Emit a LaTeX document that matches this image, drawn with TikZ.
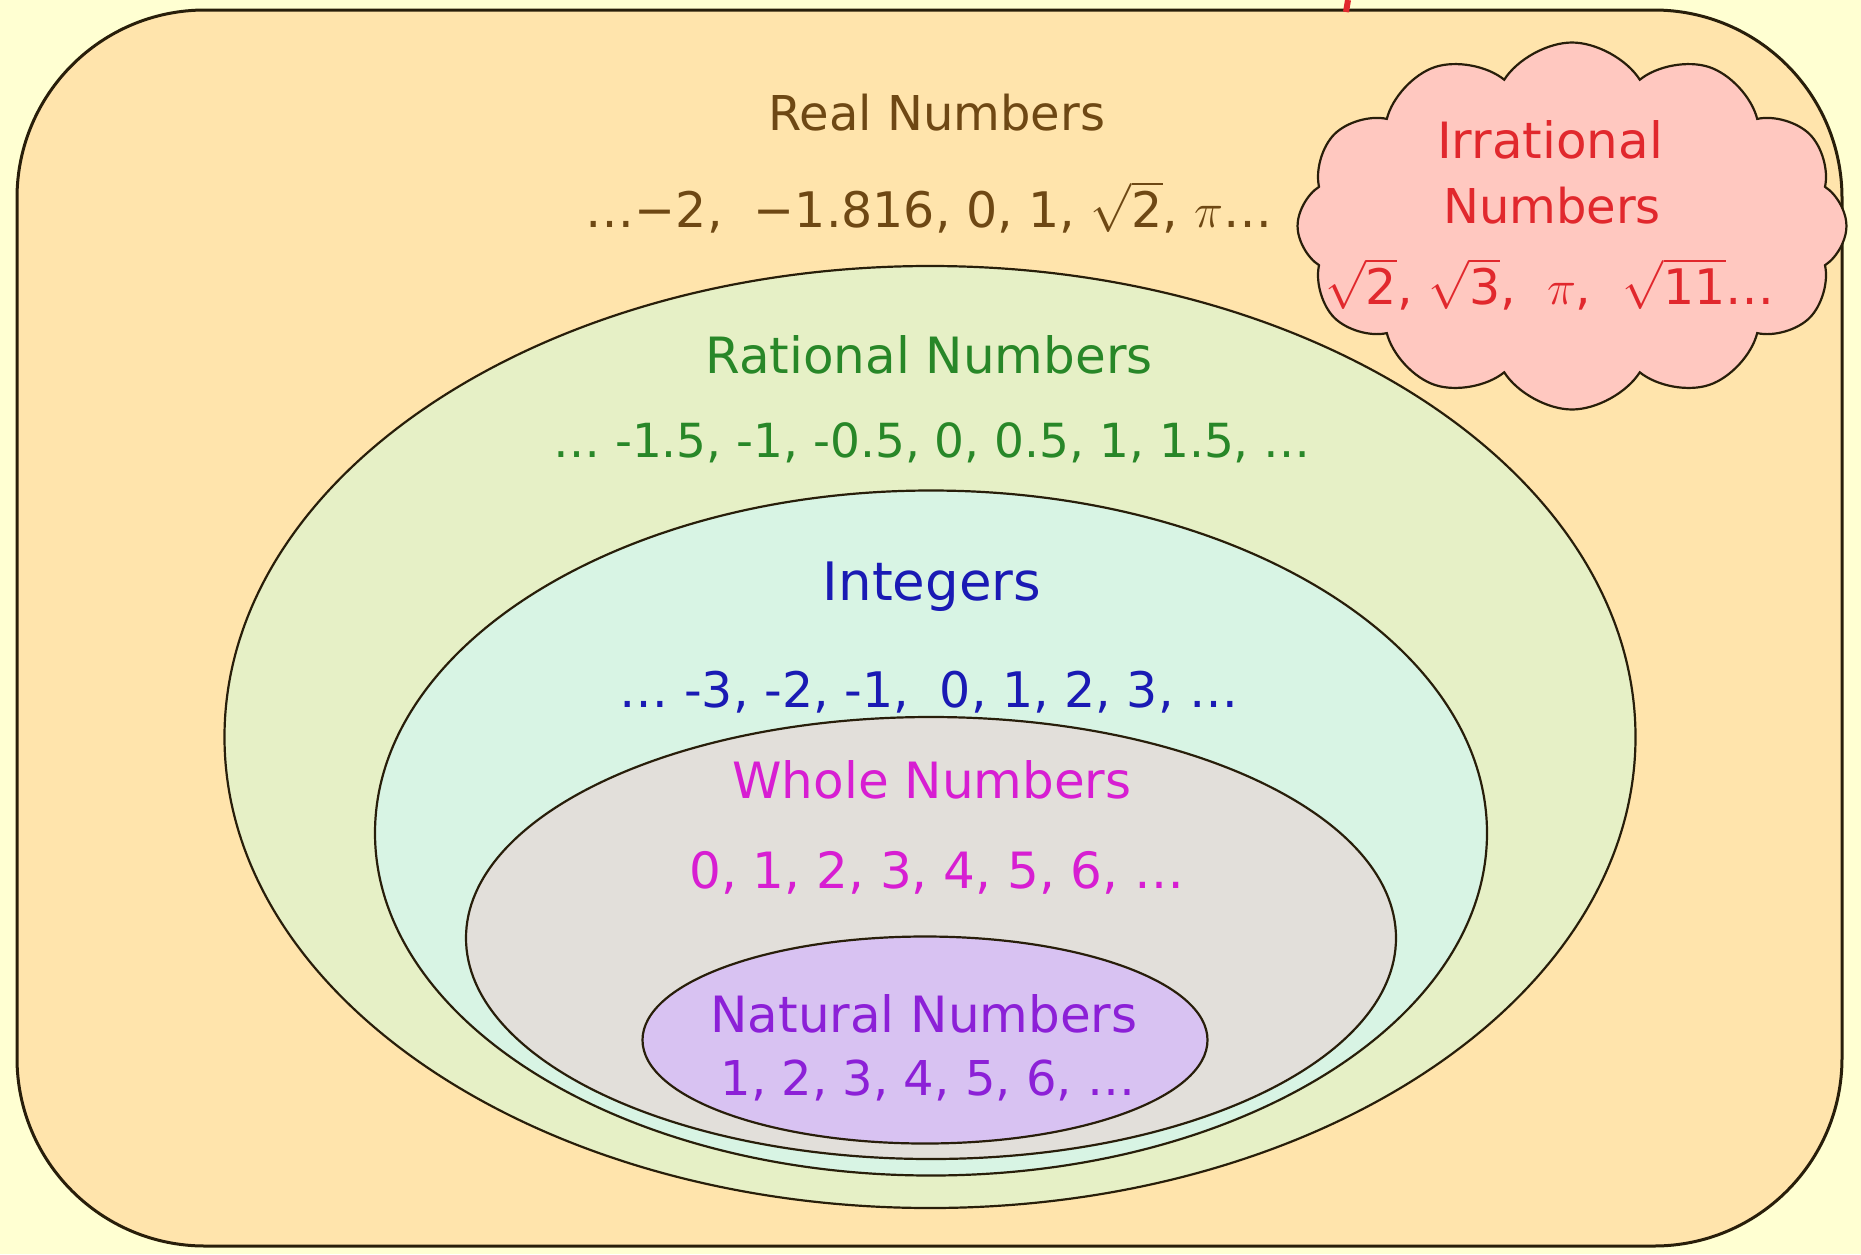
\RequirePackage{fix-cm}
\documentclass[tikz,border=0pt]{standalone}
\usepackage{fontspec}
\setmainfont{DejaVu Sans}
\usetikzlibrary{shapes.geometric,shapes.symbols}
\definecolor{bgout}{RGB}{255,255,210}
\definecolor{peach}{RGB}{255,228,172}
\definecolor{ratfill}{RGB}{230,240,198}
\definecolor{intfill}{RGB}{216,244,228}
\definecolor{wholefill}{RGB}{226,223,218}
\definecolor{natfill}{RGB}{216,194,242}
\definecolor{cloudfill}{RGB}{255,200,192}
\definecolor{edge}{RGB}{40,30,10}
\definecolor{realc}{RGB}{110,72,20}
\definecolor{ratc}{RGB}{40,135,40}
\definecolor{intc}{RGB}{26,26,180}
\definecolor{wholec}{RGB}{215,30,210}
\definecolor{natc}{RGB}{140,32,215}
\definecolor{irrc}{RGB}{225,40,45}
\tikzset{
  elli/.style={ellipse, draw=edge, line width=2.2pt, inner sep=0pt},
  lbl/.style={anchor=base, inner sep=0pt, font=\fontsize{50}{58}\selectfont},
}
\newcommand{\rt}[1]{$\sqrt{\mbox{#1}}$}
\begin{document}
\begin{tikzpicture}[x=1pt,y=-1pt]
\fill[bgout] (0,0) rectangle (1861,1254);
\useasboundingbox (0,0) rectangle (1861,1254);
% outer set: real numbers
\node[draw=edge, fill=peach, line width=3pt, rounded corners=188pt,
      minimum width=1825pt, minimum height=1236pt, inner sep=0pt] (real) at (929.5,628) {};
% nested sets
\node[elli, fill=ratfill, minimum width=1411pt, minimum height=942pt] (rat) at (930,737) {};
\node[elli, fill=intfill, minimum width=1112pt, minimum height=685pt] (int) at (931,833) {};
\node[elli, fill=wholefill, minimum width=930pt, minimum height=442pt] (whole) at (931,938) {};
\node[elli, fill=natfill, minimum width=565pt, minimum height=207pt] (nat) at (925,1040) {};
% irrational cloud
\node[cloud, cloud puffs=12, cloud puff arc=115, cloud ignores aspect, draw=edge,
      fill=cloudfill, line width=2.2pt, minimum width=549pt, minimum height=367pt,
      inner sep=0pt] (irr) at (1572,226) {};
% title fragment
\draw[irrc, line width=6pt] (1348,0) -- (1346,12);
% labels
\node[lbl, text=realc, font=\fontsize{48}{56}\selectfont] (realT) at (937,130) {Real Numbers};
\node[lbl, text=realc, font=\fontsize{49}{57}\selectfont] (realR) at (929,227) {…−2,\ \ −1.816,\ 0,\ 1,\ \rt{2},\ $\pi$…};
\node[lbl, text=ratc] (ratT) at (929,373) {Rational Numbers};
\node[lbl, text=ratc, font=\fontsize{47}{55}\selectfont] (ratR) at (932,457) {… -1.5, -1, -0.5, 0, 0.5, 1, 1.5, …};
\node[lbl, text=intc, font=\fontsize{53}{60}\selectfont] (intT) at (932,600) {Integers};
\node[lbl, text=intc, font=\fontsize{49}{57}\selectfont] (intR) at (929,707) {… -3, -2, -1,\ \ 0,\ 1, 2, 3, …};
\node[lbl, text=wholec] (wholeT) at (932,798) {Whole Numbers};
\node[lbl, text=wholec] (wholeR) at (937,888) {0,\ 1, 2, 3, 4, 5, 6, …};
\node[lbl, text=natc] (natT) at (924,1032) {Natural Numbers};
\node[lbl, text=natc, font=\fontsize{48}{56}\selectfont] (natR) at (928,1095) {1, 2, 3, 4, 5, 6, …};
\node[lbl, text=irrc, font=\fontsize{50}{58}\selectfont] (irrT1) at (1550,158) {Irrational};
\node[lbl, text=irrc, font=\fontsize{48}{56}\selectfont] (irrT2) at (1552,223) {Numbers};
\node[lbl, text=irrc, font=\fontsize{49}{57}\selectfont] (irrR) at (1550,304) {\rt{2},\ \rt{3},\ \ $\pi$,\ \ \rt{11}…};
\end{tikzpicture}
\end{document}
